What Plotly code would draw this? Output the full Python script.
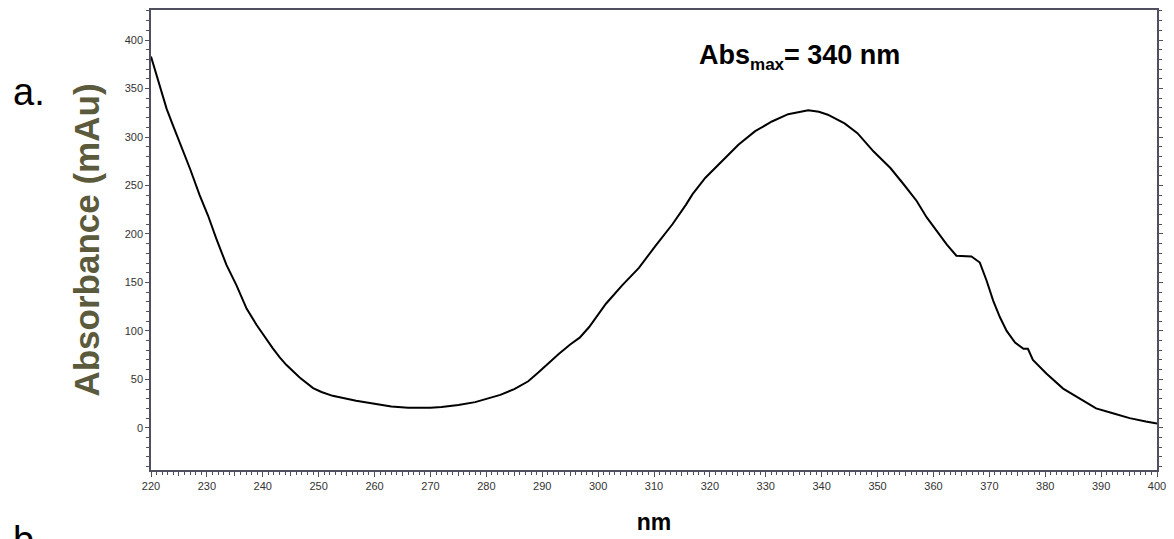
import plotly.graph_objects as go

# Wavelength (nm) and absorbance (mAu)
wavelength_nm = [
    220.0, 221.0, 221.6, 222.8, 224.0, 225.2, 227.0, 228.7, 230.2, 231.7,
    233.5, 235.3, 237.1, 238.9, 240.3, 241.8, 243.0, 244.2, 246.6, 249.0,
    250.5, 252.5, 256.7, 260.0, 263.0, 266.0, 268.0, 270.0, 272.0, 275.0,
    278.0, 280.0, 282.5, 285.0, 287.5, 289.3, 291.0, 292.9, 295.0, 296.0,
    296.7, 298.4, 301.4, 304.3, 307.3, 310.3, 313.3, 315.7, 316.9, 319.2,
    322.2, 325.1, 328.1, 331.1, 334.0, 336.0, 337.6, 339.5, 341.1, 344.1,
    346.4, 349.3, 352.3, 354.7, 357.0, 358.8, 360.6, 362.4, 364.1, 365.5,
    366.8, 368.3, 369.5, 370.7, 371.9, 373.1, 374.6, 376.1, 376.9, 377.8,
    380.2, 383.2, 386.1, 389.1, 392.1, 395.1, 398.0, 400.0,
]
absorbance_mau = [
    383, 363, 352, 329, 311, 294, 267, 240, 219, 195,
    168, 147, 123, 106, 94, 82, 73, 65, 52, 41,
    37, 33, 28, 24.5, 22, 20.8, 20.5, 20.8, 21.5, 23.5,
    26.5, 29.5, 34, 40, 48, 57, 66, 76, 86, 90,
    93, 104, 128, 147, 165, 188, 210, 230, 241, 258,
    275, 292, 306, 316, 323.5, 326, 327.5, 326, 323, 314,
    304, 285, 268, 251, 234, 217, 203, 189, 177.5, 176.8,
    176.7, 170.5, 152, 131, 114, 100, 88, 81.6, 81.6, 70,
    56, 40.5, 30, 20, 15, 10, 6.5, 4.5,
]

x_label_values = list(range(220, 401, 10))
x_label_text = [str(v) for v in x_label_values]
x_half_ticks = list(range(225, 400, 10))
y_tick_values = [0, 50, 100, 150, 200, 250, 300, 350, 400]
y_tick_labels = [str(v) for v in y_tick_values]

FONT = "Liberation Sans, Arial, sans-serif"
AXIS_COLOR = "#4f4f5f"

fig = go.Figure()
fig.add_trace(go.Scatter(
    x=wavelength_nm, y=absorbance_mau, mode="lines",
    line=dict(color="black", width=2), showlegend=False,
))
# invisible helper trace on the overlay axis that carries the 5-nm ticks
fig.add_trace(go.Scatter(
    x=[220, 400], y=[None, None], xaxis="x2", mode="lines",
    showlegend=False, hoverinfo="skip",
))

fig.update_layout(
    width=1174, height=539,
    margin=dict(l=151, r=10, t=8, b=69),
    paper_bgcolor="white", plot_bgcolor="white",
    font=dict(family=FONT, color="#333333"),
    xaxis=dict(
        range=[220, 400], showgrid=False, zeroline=False,
        showline=True, linecolor=AXIS_COLOR, linewidth=1.5, mirror=True,
        tickmode="array", tickvals=x_label_values, ticktext=x_label_text,
        ticks="outside", ticklen=5, tickcolor=AXIS_COLOR, tickwidth=1,
        tickfont=dict(size=11, color="#333333", family=FONT),
        minor=dict(dtick=1, tick0=220, ticks="outside", ticklen=3,
                   tickcolor=AXIS_COLOR, tickwidth=1),
        title=dict(text="<b>nm</b>", font=dict(size=23, color="black", family=FONT),
                   standoff=23),
    ),
    xaxis2=dict(
        range=[220, 400], overlaying="x", side="bottom", anchor="y",
        showgrid=False, zeroline=False, showline=False,
        tickmode="array", tickvals=x_half_ticks, showticklabels=False,
        ticks="outside", ticklen=5, tickcolor=AXIS_COLOR, tickwidth=1,
    ),
    yaxis=dict(
        range=[-43.5, 431], showgrid=False, zeroline=False,
        showline=True, linecolor=AXIS_COLOR, linewidth=1.5, mirror="ticks",
        tickmode="array", tickvals=y_tick_values, ticktext=y_tick_labels,
        ticks="outside", ticklen=4, tickcolor=AXIS_COLOR, tickwidth=1,
        tickfont=dict(size=11, color="#333333", family=FONT),
        minor=dict(dtick=10, tick0=0, ticks="outside", ticklen=3,
                   tickcolor=AXIS_COLOR, tickwidth=1),
        title=dict(text="<b>Absorbance (mAu)</b>",
                   font=dict(size=35, color="#5b5a3c", family=FONT), standoff=14),
    ),
)

fig.add_annotation(
    x=336.0, y=383, xref="x", yref="y",
    text="<b>Abs<sub><span style='font-size:17px'>max</span></sub>= 340 nm</b>",
    showarrow=False,
    font=dict(size=27, color="black", family=FONT),
    xanchor="center", yanchor="middle",
)
fig.add_annotation(
    x=-0.139, y=0.822, xref="paper", yref="paper",
    text="a.", showarrow=False, font=dict(size=38, color="black", family=FONT),
    xanchor="left", yanchor="middle",
)
fig.add_annotation(
    x=-0.139, y=-0.152, xref="paper", yref="paper",
    text="b.", showarrow=False, font=dict(size=38, color="black", family=FONT),
    xanchor="left", yanchor="middle",
)

fig.write_html(
    "out.html",
    config={"displayModeBar": False},
    post_script="document.body.style.margin='0px';document.body.style.overflow='hidden';",
)
